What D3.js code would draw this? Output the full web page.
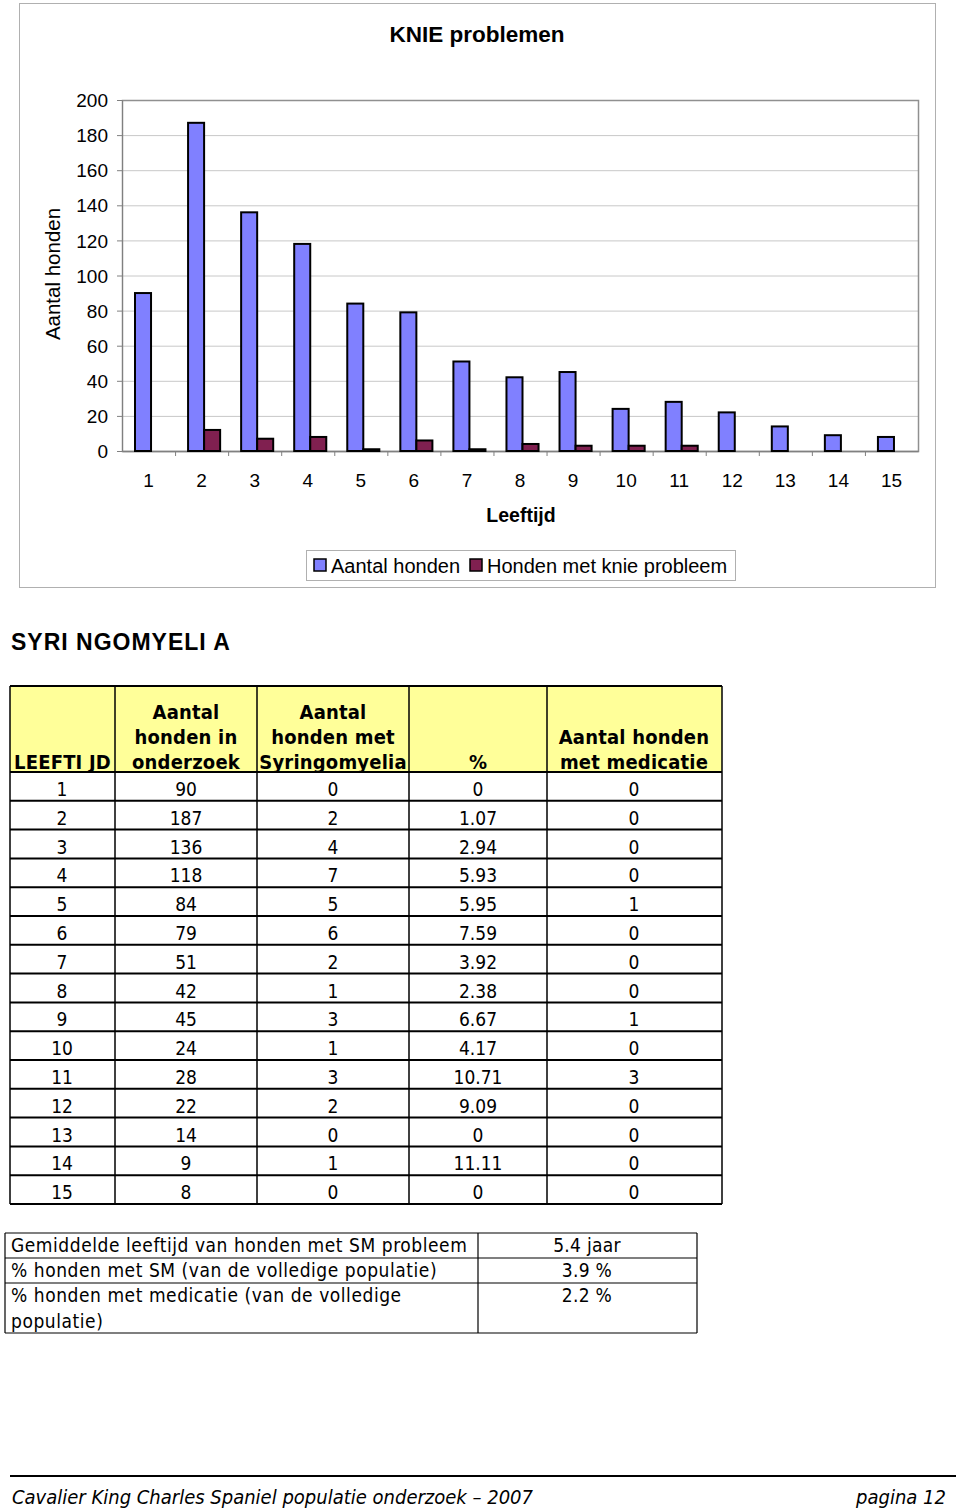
<!DOCTYPE html>
<html>
<head>
<meta charset="utf-8">
<script src="https://cdn.jsdelivr.net/npm/d3@7"></script>
<style>
  body { margin: 0; background: #fff; }
  svg { display: block; }
  .sans { font-family: "Liberation Sans", Arial, sans-serif; }
  .narrow { font-family: "Liberation Sans Narrow", "DejaVu Sans Condensed", "Liberation Sans", sans-serif; font-stretch: condensed; }
</style>
</head>
<body>
<svg id="page" width="960" height="1509"></svg>
<script>
// ---- data ----
const ages = [1, 2, 3, 4, 5, 6, 7, 8, 9, 10, 11, 12, 13, 14, 15];
const honden = [90, 187, 136, 118, 84, 79, 51, 42, 45, 24, 28, 22, 14, 9, 8];
const knie = [0, 12, 7, 8, 1, 6, 1, 4, 3, 3, 3, 0, 0, 0, 0];
const yTicks = [0, 20, 40, 60, 80, 100, 120, 140, 160, 180, 200];
const seriesNames = ["Aantal honden", "Honden met knie probleem"];
const seriesColors = ["#8080ff", "#802050"];

const syringo = [0, 2, 4, 7, 5, 6, 2, 1, 3, 1, 3, 2, 0, 1, 0];
const pct = ["0", "1.07", "2.94", "5.93", "5.95", "7.59", "3.92", "2.38", "6.67", "4.17", "10.71", "9.09", "0", "11.11", "0"];
const medicatie = [0, 0, 0, 0, 1, 0, 0, 0, 1, 0, 3, 0, 0, 0, 0];
const headers = [
  ["", "", "LEEFTI JD"],
  ["Aantal", "honden in", "onderzoek"],
  ["Aantal", "honden met", "Syringomyelia"],
  ["", "", "%"],
  ["", "Aantal honden", "met medicatie"]
];
const summaryLabels = [
  ["Gemiddelde leeftijd van honden met SM probleem"],
  ["% honden met SM (van de volledige populatie)"],
  ["% honden met medicatie (van de volledige", "populatie)"]
];
const summaryValues = ["5.4 jaar", "3.9 %", "2.2 %"];

const svg = d3.select("#page");

// ---- chart ----
const margin = {top: 100, right: 42, bottom: 1058, left: 122};
const width = 960 - margin.left - margin.right;
const height = 1509 - margin.top - margin.bottom;

svg.append("rect")
  .attr("x", 19.5).attr("y", 3.5).attr("width", 916).attr("height", 584)
  .attr("fill", "#fff").attr("stroke", "#b0b0b0");

svg.append("text").attr("class", "sans")
  .attr("x", 477).attr("y", 42).attr("text-anchor", "middle")
  .attr("font-size", 22.5).attr("font-weight", "bold").text("KNIE problemen");

const chart = svg.append("g").attr("transform", `translate(${margin.left},${margin.top})`);

const x = d3.scaleBand().domain(ages).range([0, width]).paddingInner(0).paddingOuter(0);
const xSub = d3.scaleBand().domain([0, 1]).range([13, x.bandwidth() - 8]);
const y = d3.scaleLinear().domain([0, 200]).range([height, 0]);

// gridlines
chart.append("g")
  .selectAll("line").data(yTicks.slice(1)).join("line")
  .attr("x1", 0).attr("x2", width)
  .attr("y1", d => y(d) + 0.5).attr("y2", d => y(d) + 0.5)
  .attr("stroke", "#c8c8c8");

chart.append("rect").attr("x", 0.5).attr("y", 0.5).attr("width", width).attr("height", height)
  .attr("fill", "none").attr("stroke", "#909090").attr("stroke-width", 1.5);

const yAxis = d3.axisLeft(y).tickValues(yTicks).tickSize(5).tickPadding(9);
const yAxisG = chart.append("g").attr("class", "sans").call(yAxis);
yAxisG.select(".domain").attr("stroke", "#808080");
yAxisG.selectAll(".tick line").attr("stroke", "#808080");
yAxisG.selectAll("text").attr("font-size", 19).attr("fill", "#000").attr("dy", "0.35em");

const xAxis = d3.axisBottom(x).tickSize(0).tickPadding(23);
const xAxisG = chart.append("g").attr("class", "sans").attr("transform", `translate(0,${height})`).call(xAxis);
xAxisG.select(".domain").attr("stroke", "#808080").attr("stroke-width", 1.5);
xAxisG.selectAll("text").attr("font-size", 19).attr("fill", "#000");
// tick marks at category boundaries
xAxisG.selectAll(".bnd").data(ages.slice(1)).join("line").attr("class", "bnd")
  .attr("x1", d => x(d) + 0.5).attr("x2", d => x(d) + 0.5)
  .attr("y1", 0).attr("y2", 5).attr("stroke", "#808080");

const groups = chart.append("g").selectAll("g").data(ages).join("g")
  .attr("transform", d => `translate(${x(d)},0)`);
groups.selectAll("rect").data((d, i) => [honden[i], knie[i]]).join("rect")
  .attr("x", (d, j) => xSub(j))
  .attr("width", xSub.bandwidth())
  .attr("y", d => y(d))
  .attr("height", d => height - y(d))
  .attr("fill", (d, j) => seriesColors[j])
  .attr("stroke", "#000").attr("stroke-width", 2);

svg.append("text").attr("class", "sans")
  .attr("transform", "translate(60,274) rotate(-90)").attr("text-anchor", "middle")
  .attr("font-size", 20.5).text("Aantal honden");
svg.append("text").attr("class", "sans")
  .attr("x", 521).attr("y", 522).attr("text-anchor", "middle")
  .attr("font-size", 19.5).attr("font-weight", "bold").text("Leeftijd");

// legend
const legend = svg.append("g");
legend.append("rect").attr("x", 306.5).attr("y", 550.5).attr("width", 429).attr("height", 30)
  .attr("fill", "#fff").attr("stroke", "#b0b0b0");
const legX = [314, 470];
seriesNames.forEach((name, i) => {
  legend.append("rect").attr("x", legX[i]).attr("y", 559).attr("width", 12).attr("height", 12)
    .attr("fill", seriesColors[i]).attr("stroke", "#000").attr("stroke-width", 1.5);
  legend.append("text").attr("class", "sans").attr("x", legX[i] + 17).attr("y", 573)
    .attr("font-size", 20).text(name);
});

// ---- SYRINGOMYELIA table ----
svg.append("text").attr("class", "sans")
  .attr("x", 11).attr("y", 650).attr("font-size", 23).attr("font-weight", "bold")
  .attr("letter-spacing", 1).text("SYRI NGOMYELI A");

const colEdges = [10, 115, 257, 409, 547, 722];
const colCenters = [62, 186, 333, 478, 634];
const headTop = 686, headBottom = 772, rowH = 28.8;
const rowY = d3.scaleBand().domain(d3.range(ages.length))
  .range([headBottom, headBottom + rowH * ages.length]);
const tableBottom = headBottom + rowH * ages.length;

const tbl = svg.append("g");
tbl.append("rect").attr("x", colEdges[0]).attr("y", headTop)
  .attr("width", colEdges[5] - colEdges[0]).attr("height", headBottom - headTop).attr("fill", "#ffff99");

headers.forEach((lines, c) => {
  lines.forEach((t, li) => {
    if (!t) return;
    tbl.append("text").attr("class", "narrow")
      .attr("x", c === 0 ? 14 : colCenters[c]).attr("y", 719 + li * 25)
      .attr("text-anchor", c === 0 ? "start" : "middle")
      .attr("font-size", 20).attr("font-weight", "bold").attr("letter-spacing", 0.2).text(t);
  });
});

const rows = ages.map((a, i) => [a, honden[i], syringo[i], pct[i], medicatie[i]]);
rows.forEach((r, i) => {
  r.forEach((v, c) => {
    tbl.append("text").attr("class", "narrow")
      .attr("x", colCenters[c]).attr("y", rowY(i) + rowH / 2 + 9.5)
      .attr("text-anchor", "middle").attr("font-size", 19).text(v);
  });
});

// borders
tbl.append("g").selectAll("line").data(colEdges).join("line")
  .attr("x1", d => d).attr("x2", d => d)
  .attr("y1", headTop).attr("y2", tableBottom)
  .attr("stroke", "#000").attr("stroke-width", 1.5);
const hLines = [headTop].concat(d3.range(ages.length + 1).map(i => headBottom + i * rowH));
tbl.append("g").selectAll("line").data(hLines).join("line")
  .attr("x1", colEdges[0]).attr("x2", colEdges[5])
  .attr("y1", d => d).attr("y2", d => d)
  .attr("stroke", "#000").attr("stroke-width", 2);

// ---- summary table ----
const sumEdges = [1233, 1258, 1283, 1333];
const sumX = [5, 478, 697];
const sum = svg.append("g");
summaryLabels.forEach((lines, i) => {
  lines.forEach((t, li) => {
    sum.append("text").attr("class", "narrow")
      .attr("x", 11).attr("y", sumEdges[i] + 19 + li * 26)
      .attr("font-size", 19).attr("letter-spacing", 0.55).text(t);
  });
  sum.append("text").attr("class", "narrow")
    .attr("x", 587).attr("y", sumEdges[i] + 19)
    .attr("text-anchor", "middle").attr("font-size", 19).attr("letter-spacing", 0.3).text(summaryValues[i]);
});
sum.selectAll(".h").data(sumEdges).join("line").attr("class", "h")
  .attr("x1", sumX[0]).attr("x2", sumX[2]).attr("y1", d => d).attr("y2", d => d)
  .attr("stroke", "#000").attr("stroke-width", 1.2);
sum.selectAll(".v").data(sumX).join("line").attr("class", "v")
  .attr("x1", d => d).attr("x2", d => d).attr("y1", sumEdges[0]).attr("y2", sumEdges[3])
  .attr("stroke", "#000").attr("stroke-width", 1.2);

// ---- footer ----
svg.append("line").attr("x1", 10).attr("x2", 956).attr("y1", 1476).attr("y2", 1476)
  .attr("stroke", "#000").attr("stroke-width", 2);
svg.append("text").attr("class", "narrow").attr("x", 12).attr("y", 1504)
  .attr("font-size", 20).attr("font-style", "italic").text("Cavalier King Charles Spaniel populatie onderzoek \u2013 2007");
svg.append("text").attr("class", "narrow").attr("x", 946).attr("y", 1504).attr("text-anchor", "end")
  .attr("font-size", 20).attr("font-style", "italic").text("pagina 12");
</script>
</body>
</html>
